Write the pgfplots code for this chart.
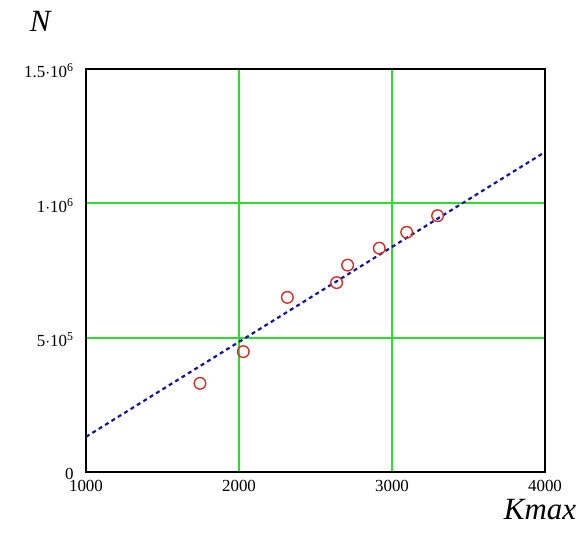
\documentclass[border=0pt]{standalone}
\usepackage{fontspec}
\setmainfont{Liberation Serif}
\usepackage{pgfplots}
\pgfplotsset{compat=1.18}
\definecolor{GridGreen}{HTML}{2EDB2E}
\definecolor{FitBlue}{HTML}{15159A}
\definecolor{PtRed}{HTML}{D0302A}

\begin{document}
\begin{tikzpicture}
\begin{axis}[
  scale only axis,
  width=459bp, height=403bp,
  xmin=1000, xmax=4000, ymin=0, ymax=1500000,
  xtick={1000,2000,3000,4000},
  ytick={0,500000,1000000,1500000},
  yticklabels={0, 5$\cdot$10\textsuperscript{5}, 1$\cdot$10\textsuperscript{6}, 1.5$\cdot$10\textsuperscript{6}},
  scaled y ticks=false,
  /pgf/number format/assume math mode=true,
  /pgf/number format/1000 sep={},
  tick label style={font=\fontsize{17}{17}\selectfont},
  xticklabel style={yshift=-5bp},
  yticklabel style={xshift=-9bp, yshift=-2bp},
  major tick length=0pt,
  axis line style={black, line width=1.6bp},
  grid=major,
  grid style={GridGreen, line width=2.2bp},
  xlabel={\itshape Kmax},
  ylabel={\itshape N},
  every axis x label/.style={at={(axis description cs:0.989,-0.094)}, anchor=center, font=\fontsize{31}{31}\selectfont},
  every axis y label/.style={at={(axis description cs:-0.100,1.117)}, anchor=center, font=\fontsize{31}{31}\selectfont},
]
  % fitted line
  \addplot[FitBlue, line width=2.2bp, dash pattern=on 4bp off 3.5bp] coordinates {(1000,131000) (4000,1191000)};
  % measured points
  \addplot[only marks, mark=o, mark size=5.8bp, mark options={PtRed, line width=1.4bp}] coordinates {
    (1745,330000) (2028,448000) (2316,650000) (2638,705000)
    (2710,770000) (2917,833000) (3096,892000) (3298,954000)
  };
\end{axis}
\pgfresetboundingbox
\useasboundingbox (current axis.south west) ++(-86bp,-62bp) rectangle ++(582bp,534bp);
\end{tikzpicture}
\end{document}
